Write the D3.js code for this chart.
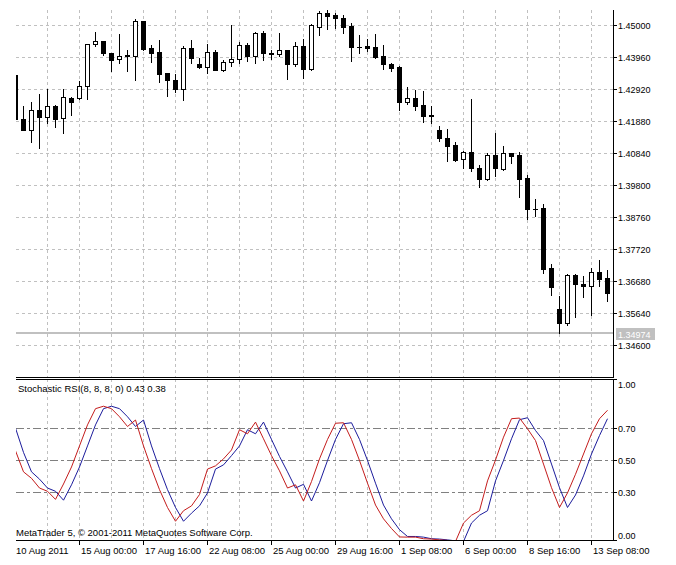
<!DOCTYPE html>
<html><head><meta charset="utf-8">
<script src="https://cdn.jsdelivr.net/npm/d3@7"></script>
<style>
body{margin:0;background:#fff}
svg{display:block}
text{font-family:"Liberation Sans",Arial,sans-serif;fill:#000}
</style>
</head><body>
<svg id="chart" width="676" height="565"></svg>
<script>
// ---------- DATA (EURUSD-like, H8 bars) ----------
const opens = [1.43375,1.41945,1.41588,1.42238,1.42010,1.42368,1.41978,1.42628,1.42628,1.43018,
1.44383,1.44480,1.44090,1.43895,1.44025,1.43993,1.45130,1.44253,1.44123,1.43440,
1.43213,1.42920,1.44253,1.43733,1.43635,1.44123,1.43538,1.43798,1.43895,1.44350,
1.43993,1.44740,1.44090,1.44058,1.44188,1.43733,1.44318,1.43570,1.44935,1.45390,
1.45325,1.45228,1.44968,1.44285,1.44318,1.44285,1.43993,1.43733,1.43635,1.42498,
1.42628,1.42400,1.42075,1.41588,1.41328,1.41100,1.40645,1.40873,1.40353,1.39995,
1.40775,1.40320,1.40840,1.40775,1.40028,1.39020,1.39053,1.37103,1.35770,1.35315,
1.36875,1.36583,1.36518,1.36973,1.36778];
const highs = [1.43375,1.42368,1.42498,1.42758,1.42920,1.42400,1.42920,1.42660,1.43180,1.44390,
1.44773,1.44480,1.44090,1.44708,1.44188,1.45195,1.45130,1.44350,1.44513,1.43440,
1.43408,1.44318,1.44513,1.43928,1.44383,1.44188,1.43863,1.45000,1.44448,1.44415,
1.44773,1.44805,1.44188,1.44740,1.44188,1.44448,1.44545,1.45033,1.45455,1.45488,
1.45390,1.45325,1.45065,1.44675,1.44545,1.44708,1.44350,1.43765,1.43668,1.42985,
1.42888,1.42855,1.42368,1.41718,1.41620,1.41198,1.40905,1.42595,1.40450,1.40840,
1.41490,1.41068,1.40840,1.40873,1.40125,1.39345,1.39183,1.37233,1.36193,1.36908,
1.36908,1.36843,1.37103,1.37363,1.37038];
const lows = [1.41945,1.41588,1.41198,1.41003,1.41815,1.41685,1.41490,1.42075,1.42595,1.42595,
1.44318,1.44025,1.43505,1.43765,1.43505,1.43213,1.44188,1.43798,1.43148,1.42693,
1.42823,1.42563,1.43765,1.43603,1.43440,1.43538,1.43505,1.43668,1.43765,1.43830,
1.43765,1.43863,1.43895,1.43993,1.43245,1.43668,1.43278,1.43538,1.44675,1.44870,
1.44903,1.44740,1.43830,1.44090,1.44155,1.43928,1.43570,1.43505,1.42238,1.42433,
1.42238,1.41848,1.41815,1.41230,1.40580,1.40580,1.40353,1.40255,1.39735,1.39963,
1.40093,1.40288,1.40515,1.39410,1.38695,1.38793,1.36940,1.36225,1.34990,1.35250,
1.35510,1.36160,1.35575,1.36518,1.36030];
const closes = [1.41945,1.41588,1.42238,1.42010,1.42368,1.41945,1.42660,1.42498,1.43018,1.44383,
1.44480,1.44090,1.43863,1.43993,1.43993,1.45130,1.44220,1.44090,1.43408,1.43213,
1.42920,1.44253,1.43928,1.43635,1.44123,1.43538,1.43798,1.43895,1.44350,1.43993,
1.44740,1.44090,1.44058,1.44188,1.43733,1.44318,1.43570,1.45000,1.45390,1.45293,
1.45228,1.44935,1.44285,1.44280,1.44253,1.43960,1.43733,1.43603,1.42498,1.42628,
1.42368,1.42043,1.42043,1.41328,1.41068,1.40613,1.40873,1.40353,1.39995,1.40775,
1.40353,1.40840,1.40743,1.39995,1.39020,1.39010,1.37070,1.36485,1.35315,1.36875,
1.36583,1.36518,1.36973,1.36745,1.36290];

const stochMain = [0.56,0.43,0.39,0.33,0.31,0.26,0.355,0.46,0.59,0.72,
0.82,0.835,0.82,0.77,0.71,0.75,0.59,0.45,0.32,0.21,
0.125,0.19,0.22,0.29,0.447,0.467,0.51,0.565,0.69,0.665,
0.737,0.634,0.53,0.436,0.33,0.35,0.25,0.37,0.51,0.63,
0.73,0.733,0.63,0.50,0.36,0.225,0.14,0.08,0.028,0.027,
0.027,0.017,0.015,0.01,0.007,0.0,0.114,0.162,0.19,0.374,
0.503,0.644,0.758,0.762,0.696,0.623,0.478,0.332,0.21,0.30,
0.415,0.54,0.665,0.758,0.81];
const stochSignal = [0.70,0.55,0.43,0.385,0.33,0.31,0.255,0.35,0.46,0.59,
0.72,0.82,0.835,0.82,0.77,0.71,0.75,0.59,0.45,0.32,
0.21,0.125,0.175,0.22,0.30,0.447,0.473,0.53,0.59,0.69,
0.665,0.737,0.63,0.525,0.43,0.33,0.353,0.25,0.363,0.50,
0.63,0.727,0.733,0.63,0.50,0.36,0.225,0.14,0.073,0.031,
0.031,0.027,0.017,0.015,0.01,0.004,0.0,0.114,0.162,0.19,
0.374,0.50,0.634,0.752,0.764,0.685,0.623,0.478,0.332,0.21,
0.287,0.405,0.54,0.654,0.758];

const priceTicks = [1.45000,1.43960,1.42920,1.41880,1.40840,1.39800,1.38760,1.37720,1.36680,1.35640,1.34600];
const stochLevels = [0.7,0.5,0.3];
const stochTicks = [1.0,0.7,0.5,0.3,0.0];
const stochTickLabels = ["1.00","0.70","0.50","0.30","0.00"];
const timeTickIdx = [0,8,16,24,32,40,48,56,64,72];
const timeTickLabels = ["10 Aug 2011","15 Aug 00:00","17 Aug 16:00","22 Aug 08:00","25 Aug 00:00",
  "29 Aug 16:00","1 Sep 08:00","6 Sep 00:00","8 Sep 16:00","13 Sep 08:00"];
const gridIdx = d3.range(4, 76, 4);
const currentPrice = 1.34974;
const indicatorTitle = "Stochastic RSI(8, 8, 8, 0) 0.43 0.38";
const copyright = "MetaTrader 5, \u00A9 2001-2011 MetaQuotes Software Corp.";

// ---------- LAYOUT ----------
const L = 16, AX = 613;          // plot left, axis column
const mainTop = 10, mainBot = 377;
const subTop = 379, subBot = 540;

const svg = d3.select("#chart");
const x = d3.scaleLinear().domain([0, 74]).range([15, 607]);          // pixel column of bar centre
const yP = d3.scaleLinear().domain([1.346, 1.45]).range([345, 25]);   // pixel row
const yS = d3.scaleLinear().domain([0, 1]).range([541.5, 379.5]);
const R = v => Math.round(v);

const defs = svg.append("defs");
defs.append("clipPath").attr("id","clipMain").append("rect")
  .attr("x",L).attr("y",mainTop).attr("width",AX-L).attr("height",mainBot-mainTop);
defs.append("clipPath").attr("id","clipSub").append("rect")
  .attr("x",L).attr("y",subTop).attr("width",AX-L).attr("height",subBot-subTop+1);

const gridCol = "#c0c0c0";

// ---------- MAIN PANE ----------
const gm = svg.append("g").attr("clip-path","url(#clipMain)");
gm.selectAll("line.hg").data(priceTicks).join("line")
  .attr("x1",L).attr("x2",AX).attr("y1",d=>R(yP(d))+0.5).attr("y2",d=>R(yP(d))+0.5)
  .attr("stroke",gridCol).attr("stroke-dasharray","3,3");
gm.selectAll("line.vg").data(gridIdx).join("line")
  .attr("x1",d=>x(d)+0.5).attr("x2",d=>x(d)+0.5).attr("y1",mainTop).attr("y2",mainBot)
  .attr("stroke",gridCol).attr("stroke-dasharray","3,3");

// current price line
gm.append("line").attr("x1",L).attr("x2",AX)
  .attr("y1",R(yP(currentPrice))).attr("y2",R(yP(currentPrice)))
  .attr("stroke","#c0c0c0").attr("stroke-width",2);

// candles
const bars = d3.range(opens.length).map(i => ({i,o:opens[i],h:highs[i],l:lows[i],c:closes[i]}));
const cg = gm.append("g").attr("shape-rendering","crispEdges");
bars.forEach(b => {
  const cx = x(b.i);
  const yh = R(yP(b.h)), yl = R(yP(b.l));
  cg.append("rect").attr("x",cx).attr("y",yh).attr("width",1).attr("height",yl-yh+1).attr("fill","#000");
  const yt = R(yP(Math.max(b.o,b.c))), yb = R(yP(Math.min(b.o,b.c)));
  const hgt = yb - yt + 1;
  cg.append("rect").attr("x",cx-2).attr("y",yt).attr("width",5).attr("height",hgt).attr("fill","#000");
  if (b.c > b.o && hgt > 2) {
    cg.append("rect").attr("x",cx-1).attr("y",yt+1).attr("width",3).attr("height",hgt-2).attr("fill","#fff");
  }
});

// ---------- SUB PANE ----------
const gs = svg.append("g").attr("clip-path","url(#clipSub)");
gs.selectAll("line.vg").data(gridIdx).join("line")
  .attr("x1",d=>x(d)+0.5).attr("x2",d=>x(d)+0.5).attr("y1",subTop).attr("y2",subBot)
  .attr("stroke",gridCol).attr("stroke-dasharray","3,3");
gs.selectAll("line.lv").data(stochLevels).join("line")
  .attr("x1",L).attr("x2",AX).attr("y1",d=>Math.floor(yS(d))+0.5).attr("y2",d=>Math.floor(yS(d))+0.5)
  .attr("stroke","#808080").attr("stroke-dasharray","8,3,3,3");

const line = arr => d3.line().x((d,i)=>x(i)+0.5).y(d=>yS(d))(arr);
gs.append("path").attr("d",line(stochSignal)).attr("fill","none").attr("stroke","#1c1c9c").attr("stroke-width",1);
gs.append("path").attr("d",line(stochMain)).attr("fill","none").attr("stroke","#c41c1c").attr("stroke-width",1);

// ---------- FRAMES & AXES ----------
const fr = svg.append("g").attr("stroke","#000").attr("shape-rendering","crispEdges");
fr.append("line").attr("x1",AX+0.5).attr("x2",AX+0.5).attr("y1",mainTop).attr("y2",mainBot+1);
fr.append("line").attr("x1",L).attr("x2",AX+1).attr("y1",mainBot+0.5).attr("y2",mainBot+0.5);
fr.append("line").attr("x1",L).attr("x2",AX+1).attr("y1",subTop+0.5).attr("y2",subTop+0.5);
fr.append("line").attr("x1",AX+0.5).attr("x2",AX+0.5).attr("y1",subTop).attr("y2",subBot+1);
fr.append("line").attr("x1",L).attr("x2",AX+1).attr("y1",subBot+0.5).attr("y2",subBot+0.5);

// price axis
fr.selectAll("line.pt").data(priceTicks).join("line")
  .attr("x1",AX+1).attr("x2",AX+4).attr("y1",d=>R(yP(d))+0.5).attr("y2",d=>R(yP(d))+0.5);
svg.append("g").selectAll("text").data(priceTicks).join("text")
  .attr("x",AX+5).attr("y",d=>R(yP(d))+4).attr("font-size","9px")
  .text(d=>d.toFixed(5));

// current price label
svg.append("rect").attr("x",616).attr("y",328).attr("width",39).attr("height",12).attr("fill","#c0c0c0");
svg.append("text").attr("x",618).attr("y",337.5).attr("font-size","9px").style("fill","#fff")
  .text(currentPrice.toFixed(5));

// stoch axis
const stPos = [subTop+0.5, Math.floor(yS(0.7))+0.5, Math.floor(yS(0.5))+0.5, Math.floor(yS(0.3))+0.5, subBot+0.5];
const stLab = [388, null, null, null, 539];
fr.selectAll("line.st").data(stochTicks).join("line")
  .attr("x1",AX+1).attr("x2",AX+4).attr("y1",(d,i)=>stPos[i]).attr("y2",(d,i)=>stPos[i]);
svg.append("g").selectAll("text").data(stochTicks).join("text")
  .attr("x",AX+5).attr("y",(d,i)=> stLab[i] !== null ? stLab[i] : stPos[i]+3.5)
  .attr("font-size","9px").text((d,i)=>stochTickLabels[i]);

// time axis
fr.selectAll("line.tt").data(timeTickIdx.slice(1)).join("line")
  .attr("x1",d=>x(d)+0.5).attr("x2",d=>x(d)+0.5).attr("y1",subBot+1).attr("y2",subBot+5);
svg.append("g").selectAll("text").data(timeTickIdx).join("text")
  .attr("x",(d,i)=> i===0 ? L : x(d)+2).attr("y",554).attr("font-size","9.5px")
  .text((d,i)=>timeTickLabels[i]);

// titles
svg.append("text").attr("x",18).attr("y",392).attr("font-size","9.5px").text(indicatorTitle);
svg.append("text").attr("x",16).attr("y",536).attr("font-size","9.5px").text(copyright);
</script>
</body></html>
